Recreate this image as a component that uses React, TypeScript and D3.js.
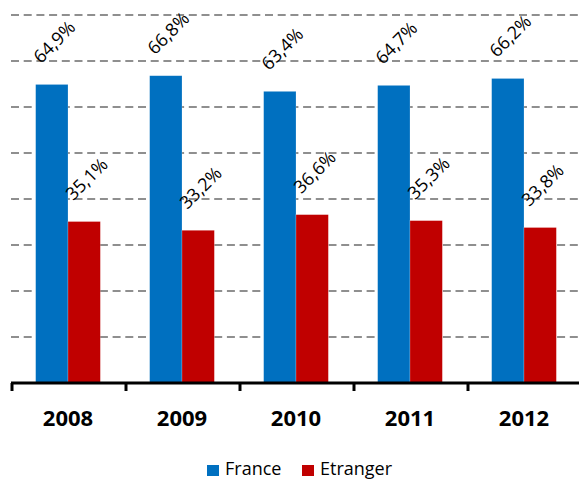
import React from "react";
import * as d3 from "d3";

const years = ["2008", "2009", "2010", "2011", "2012"];
const series = ["France", "Etranger"];
const france = [64.9, 66.8, 63.4, 64.7, 66.2];
const etranger = [35.1, 33.2, 36.6, 35.3, 33.8];
const colors = ["#0070C0", "#C00000"];
const gridTicks = [10, 20, 30, 40, 50, 60, 70, 80];

const W = 579;
const H = 479;

export default function App() {
  const x0 = d3.scaleBand().domain(years).range([11, 581]).paddingInner(0).paddingOuter(0);
  const x1 = d3.scaleBand().domain(series).range([0, x0.bandwidth()]).paddingInner(0).paddingOuter(0.762);
  const y = d3.scaleLinear().domain([0, 80]).range([383, 15]);
  const data = [france, etranger];
  const fmt = (v: number) => v.toFixed(1).replace(".", ",") + "%";
  const font = "'Open Sans', sans-serif";

  return (
    <svg width={W} height={H} style={{ position: "absolute", left: 0, top: 0 }}>
      <rect width={W} height={H} fill="#fff" />
      {gridTicks.map((t) => (
        <line key={t} x1={11} x2={W} y1={y(t)} y2={y(t)} stroke="#8f8f8f" strokeWidth={1.8} strokeDasharray="8,4.7" />
      ))}
      {years.map((yr, i) =>
        series.map((s, j) => {
          const v = data[j][i];
          const bx = (x0(yr) as number) + (x1(s) as number);
          return (
            <rect key={yr + s} x={bx} y={y(v)} width={x1.bandwidth()} height={y(0) - y(v)} fill={colors[j]} stroke="#ffffff" strokeOpacity={0.35} strokeWidth={0.6} />
          );
        })
      )}
      {years.map((yr, i) =>
        series.map((s, j) => {
          const v = data[j][i];
          const cx = (x0(yr) as number) + (x1(s) as number) + x1.bandwidth() / 2 + 2;
          const cy = y(v) - 43;
          return (
            <text key={"l" + yr + s} x={cx} y={cy} transform={`rotate(-45 ${cx} ${cy})`} textAnchor="middle" dominantBaseline="central" fontFamily={font} fontSize={18} fill="#000">
              {fmt(v)}
            </text>
          );
        })
      )}
      <line x1={11} x2={W} y1={y(0)} y2={y(0)} stroke="#000" strokeWidth={3} />
      {years.map((yr) => (
        <line key={"t" + yr} x1={(x0(yr) as number) + 1} x2={(x0(yr) as number) + 1} y1={y(0)} y2={391} stroke="#000" strokeWidth={3} />
      ))}
      {years.map((yr) => (
        <text key={"x" + yr} x={(x0(yr) as number) + x0.bandwidth() / 2} y={426} textAnchor="middle" fontFamily={font} fontWeight="bold" fontSize={22} fill="#000">
          {yr}
        </text>
      ))}
      {series.map((s, j) => {
        const lx = [207, 302][j];
        return (
          <g key={"lg" + s}>
            <rect x={lx} y={465} width={12} height={11} fill={colors[j]} />
            <text x={lx + 18} y={475} fontFamily={font} fontSize={18} fill="#000">
              {s}
            </text>
          </g>
        );
      })}
    </svg>
  );
}
